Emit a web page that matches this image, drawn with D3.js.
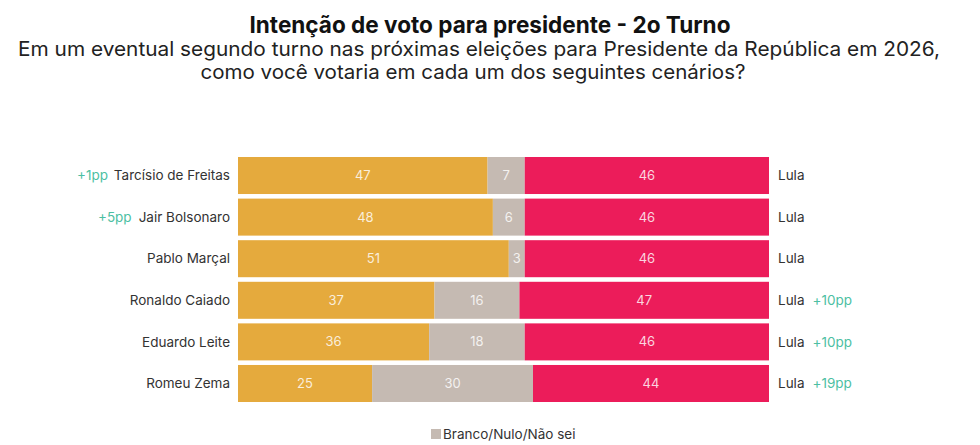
<!DOCTYPE html>
<html>
<head>
<meta charset="utf-8">
<script src="https://cdn.jsdelivr.net/npm/d3@7"></script>
<style>
  body { margin: 0; background: #fff; }
  text { font-family: Inter, "Noto Sans", sans-serif; }
</style>
</head>
<body>
<svg id="chart"></svg>
<script>
// dados do gráfico
const candidatos = ["Tarcísio de Freitas", "Jair Bolsonaro", "Pablo Marçal", "Ronaldo Caiado", "Eduardo Leite", "Romeu Zema"];
const votoCandidato = [47, 48, 51, 37, 36, 25];
const votoBranco = [7, 6, 3, 16, 18, 30];
const votoLula = [46, 46, 46, 47, 46, 44];
const variacaoCandidato = ["+1pp", "+5pp", "", "", "", ""];
const variacaoLula = ["", "", "", "+10pp", "+10pp", "+19pp"];
const chaves = ["candidato", "branco", "lula"];

const width = 980, height = 445;
const colors = { candidato: "#E5AA3D", branco: "#C5BAB2", lula: "#EC1C5A" };

const data = candidatos.map((c, i) => ({
  nome: c,
  candidato: votoCandidato[i],
  branco: votoBranco[i],
  lula: votoLula[i],
  varC: variacaoCandidato[i],
  varL: variacaoLula[i]
}));

const svg = d3.select("#chart")
  .attr("width", width)
  .attr("height", height);

// título
svg.append("text")
  .attr("x", width / 2)
  .attr("y", 33)
  .attr("text-anchor", "middle")
  .attr("font-size", 23)
  .attr("font-weight", 700)
  .attr("fill", "#111")
  .attr("textLength", 481)
  .attr("lengthAdjust", "spacingAndGlyphs")
  .text("Intenção de voto para presidente - 2o Turno");

svg.append("text")
  .attr("x", 479)
  .attr("y", 56)
  .attr("text-anchor", "middle")
  .attr("font-size", 20)
  .attr("fill", "#222")
  .attr("textLength", 922)
  .attr("lengthAdjust", "spacingAndGlyphs")
  .text("Em um eventual segundo turno nas próximas eleições para Presidente da República em 2026,");

svg.append("text")
  .attr("x", 473)
  .attr("y", 79)
  .attr("text-anchor", "middle")
  .attr("font-size", 20)
  .attr("fill", "#222")
  .attr("textLength", 545)
  .attr("lengthAdjust", "spacingAndGlyphs")
  .text("como você votaria em cada um dos seguintes cenários?");

// escalas (cada barra ocupa a largura total)
const x = d3.scaleLinear().domain([0, 1]).range([238, 769]);
const y = d3.scaleBand().domain(candidatos).range([157, 402]).paddingInner(0.11);

const stacked = d3.stack().keys(chaves).offset(d3.stackOffsetExpand)(data);

// barras
const layers = svg.append("g")
  .selectAll("g")
  .data(stacked)
  .join("g")
  .attr("fill", d => colors[d.key]);

layers.selectAll("rect")
  .data(d => d.map(v => Object.assign(v, { key: d.key })))
  .join("rect")
  .attr("x", d => x(d[0]))
  .attr("y", d => y(d.data.nome))
  .attr("width", d => x(d[1]) - x(d[0]))
  .attr("height", y.bandwidth());

layers.selectAll("text")
  .data(d => d)
  .join("text")
  .attr("x", d => (x(d[0]) + x(d[1])) / 2)
  .attr("y", d => y(d.data.nome) + y.bandwidth() / 2)
  .attr("dy", "0.35em")
  .attr("text-anchor", "middle")
  .attr("font-size", 13)
  .attr("fill", "#fff")
  .attr("fill-opacity", 0.82)
  .text(d => d.data[d.key]);

// rótulos à esquerda
const left = svg.append("g")
  .selectAll("text")
  .data(data)
  .join("text")
  .attr("x", 230)
  .attr("y", d => y(d.nome) + y.bandwidth() / 2)
  .attr("dy", "0.35em")
  .attr("text-anchor", "end")
  .attr("font-size", 13.5)
  .attr("fill", "#333");

left.append("tspan")
  .attr("fill", "#4DBFA3")
  .text(d => d.varC);
left.append("tspan")
  .attr("dx", d => d.varC ? 7 : 0)
  .text(d => d.nome);

// rótulos à direita
const right = svg.append("g")
  .selectAll("text")
  .data(data)
  .join("text")
  .attr("x", 778)
  .attr("y", d => y(d.nome) + y.bandwidth() / 2)
  .attr("dy", "0.35em")
  .attr("font-size", 13.5)
  .attr("fill", "#333");

right.append("tspan").text("Lula");
right.append("tspan")
  .attr("fill", "#4DBFA3")
  .attr("dx", 8)
  .text(d => d.varL);

// legenda
const legend = svg.append("g").attr("transform", "translate(431,429)");
legend.append("rect")
  .attr("width", 10)
  .attr("height", 10)
  .attr("fill", colors.branco);
legend.append("text")
  .attr("x", 12)
  .attr("y", 10)
  .attr("font-size", 13.5)
  .attr("fill", "#333")
  .text("Branco/Nulo/Não sei");
</script>
</body>
</html>
